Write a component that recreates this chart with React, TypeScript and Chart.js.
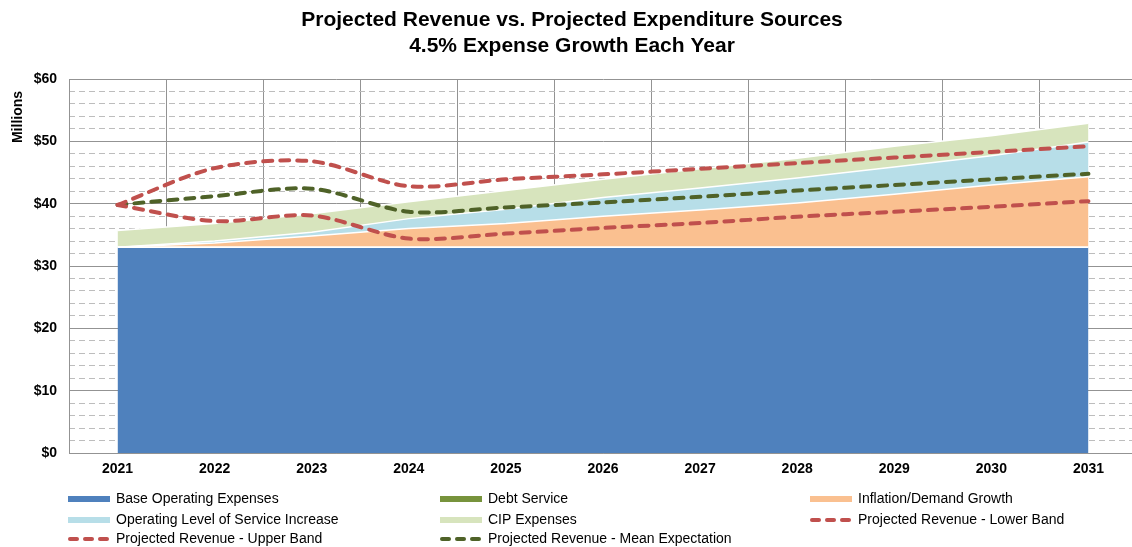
import React, { useEffect, useRef } from "react";
import { Chart, registerables } from "chart.js";

Chart.register(...registerables);

// ---- data ----
const years = ["2021", "2022", "2023", "2024", "2025", "2026", "2027", "2028", "2029", "2030", "2031"];
const baseOperatingExpenses = [33, 33, 33, 33, 33, 33, 33, 33, 33, 33, 33];
const debtService = [0, 0, 0, 0, 0, 0, 0, 0, 0, 0, 0];
const inflationDemandGrowth = [0, 0.7, 1.8, 3.0, 3.8, 5.0, 6.0, 7.1, 8.5, 10.0, 11.3];
const operatingLevelIncrease = [0, 0.3, 0.6, 1.6, 2.3, 3.0, 3.5, 4.0, 4.4, 4.7, 5.6];
const cipExpenses = [2.7, 2.8, 3.0, 2.7, 3.0, 2.9, 3.1, 3.2, 3.3, 3.2, 3.0];
const revenueLowerBand = [39.8, 37.2, 38.1, 34.4, 35.2, 36.1, 36.9, 37.9, 38.7, 39.5, 40.4];
const revenueUpperBand = [39.8, 45.7, 46.8, 42.8, 43.9, 44.7, 45.6, 46.5, 47.4, 48.3, 49.2];
const revenueMean = [39.8, 41.2, 42.4, 38.7, 39.4, 40.2, 41.1, 42.1, 43.0, 43.9, 44.8];
const yTickValues = [0, 10, 20, 30, 40, 50, 60];

const titleLines = ["Projected Revenue vs. Projected Expenditure Sources", "4.5% Expense Growth Each Year"];
const yAxisTitle = "Millions";

const FONT = '"Liberation Sans", Arial, Helvetica, sans-serif';

export default function App() {
  const ref = useRef<HTMLCanvasElement | null>(null);

  useEffect(() => {
    const canvas = ref.current;
    if (!canvas) return;

    const area = (label: string, data: number[], color: string, fill: string | boolean) => ({
      type: "line" as const,
      label,
      data,
      backgroundColor: color,
      borderColor: "#ffffff",
      borderWidth: 1.5,
      fill,
      tension: 0,
      pointRadius: 0,
      stack: "expenses",
      order: 1,
      isArea: true,
    });
    const dashed = (label: string, data: number[], color: string, stack: string) => ({
      type: "line" as const,
      label,
      data,
      borderColor: color,
      backgroundColor: color,
      borderWidth: 4,
      borderDash: [9, 8],
      borderCapStyle: "round" as const,
      fill: false,
      tension: 0.3,
      pointRadius: 0,
      stack,
      order: 0,
      isArea: false,
    });

    const legendPlugin = {
      id: "gridLegend",
      afterDraw(chart: any) {
        const ctx: CanvasRenderingContext2D = chart.ctx;
        ctx.save();
        const cols = [68, 440, 810];
        const rows = [499, 520, 539];
        chart.data.datasets.forEach((ds: any, i: number) => {
          const x = cols[i % 3];
          const y = rows[Math.floor(i / 3)];
          if (ds.isArea) {
            ctx.fillStyle = ds.backgroundColor;
            ctx.fillRect(x, y - 3, 42, 6);
          } else {
            ctx.strokeStyle = ds.borderColor;
            ctx.lineWidth = 4;
            ctx.lineCap = "round";
            ctx.setLineDash([]);
            [[2, 9], [17, 24], [32, 39]].forEach(([a, b]) => {
              ctx.beginPath();
              ctx.moveTo(x + a, y);
              ctx.lineTo(x + b, y);
              ctx.stroke();
            });
          }
          ctx.fillStyle = "#000";
          ctx.font = `14px ${FONT}`;
          ctx.textAlign = "left";
          ctx.textBaseline = "middle";
          ctx.fillText(ds.label, x + 48, y);
        });
        // y axis title
        ctx.translate(18, 117);
        ctx.rotate(-Math.PI / 2);
        ctx.font = `bold 14px ${FONT}`;
        ctx.textAlign = "center";
        ctx.textBaseline = "middle";
        ctx.fillStyle = "#000";
        ctx.fillText(yAxisTitle, 0, 0);
        ctx.restore();
      },
    };

    const chart = new Chart(canvas, {
      type: "line",
      data: {
        labels: years,
        datasets: [
          area("Base Operating Expenses", baseOperatingExpenses, "#4F81BD", "origin"),
          area("Debt Service", debtService, "#77933C", "-1"),
          area("Inflation/Demand Growth", inflationDemandGrowth, "#FAC090", "-1"),
          area("Operating Level of Service Increase", operatingLevelIncrease, "#B7DEE8", "-1"),
          area("CIP Expenses", cipExpenses, "#D7E4BD", "-1"),
          dashed("Projected Revenue - Lower Band", revenueLowerBand, "#C0504D", "lower"),
          dashed("Projected Revenue - Upper Band", revenueUpperBand, "#C0504D", "upper"),
          dashed("Projected Revenue - Mean Expectation", revenueMean, "#4F6228", "mean"),
        ] as any,
      },
      options: {
        animation: false,
        responsive: false,
        devicePixelRatio: 1,
        layout: { padding: { left: 7, right: 23, top: 0, bottom: 70 } },
        plugins: {
          legend: { display: false },
          tooltip: { enabled: false },
          title: {
            display: true,
            text: titleLines,
            color: "#000",
            font: { family: FONT, size: 21, weight: "bold", lineHeight: 1.2 },
            padding: { top: 8, bottom: 20.6 },
          },
        },
        scales: {
          x: {
            type: "category",
            offset: true,
            grid: { offset: true, color: "#939393", lineWidth: 1, drawTicks: false },
            border: { color: "#939393", width: 1 },
            ticks: { color: "#000", font: { family: FONT, size: 14, weight: "bold" }, padding: 8, maxRotation: 0, autoSkip: false },
            afterFit: (s: any) => { s.height = 24; },
          },
          yMinor: {
            type: "linear",
            position: "left",
            min: 0,
            max: 60,
            ticks: { stepSize: 2, display: false },
            grid: {
              drawTicks: false,
              color: (c: any) => (c.tick && c.tick.value % 10 === 0 ? "rgba(0,0,0,0)" : "#BDBDBD"),
              lineWidth: 1,
            },
            border: { display: false, dash: [6, 4] },
            afterFit: (s: any) => { s.width = 0; },
          },
          y: {
            type: "linear",
            position: "left",
            stacked: true,
            min: 0,
            max: 60,
            afterBuildTicks: (s: any) => { s.ticks = yTickValues.map((v) => ({ value: v })); },
            ticks: {
              color: "#000",
              font: { family: FONT, size: 14, weight: "bold" },
              padding: 12,
              callback: (v: any) => `$${v}`,
            },
            grid: { color: "#939393", lineWidth: 1, drawTicks: false },
            border: { color: "#939393", width: 1 },
            afterFit: (s: any) => { s.width = 62; },
          },
        },
      } as any,
      plugins: [legendPlugin],
    });

    return () => chart.destroy();
  }, []);

  return (
    <div style={{ position: "fixed", left: 0, top: 0, width: 1132, height: 547, overflow: "hidden", background: "#fff" }}>
      <canvas ref={ref} width={1160} height={547} style={{ display: "block", width: 1160, height: 547 }} />
    </div>
  );
}
